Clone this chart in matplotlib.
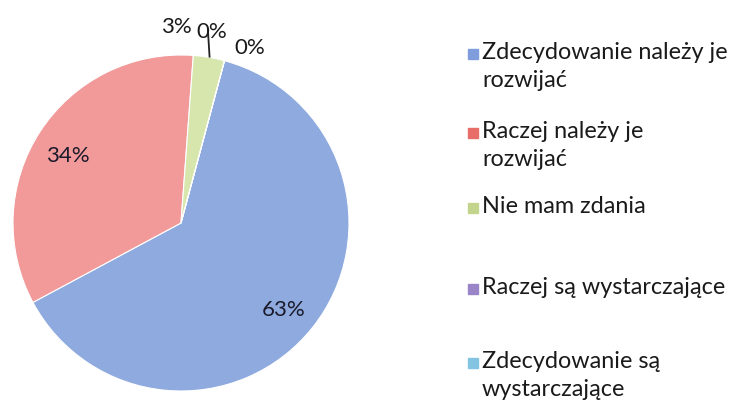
import numpy as np
import matplotlib
import matplotlib.pyplot as plt
from matplotlib.patches import Rectangle
matplotlib.use('Agg')

categories = ['Zdecydowanie należy je\nrozwijać', 'Raczej należy je\nrozwijać', 'Nie mam zdania',
              'Raczej są wystarczające', 'Zdecydowanie są\nwystarczające']
values = [63, 34, 3, 0, 0]
pie_colors = ['#8eaade', '#f29a9a', '#d6e6ad', '#a48fcf', '#8ccbe6']
legend_colors = ['#7f9cdc', '#e86c68', '#c3d58c', '#9a85c8', '#82c4e2']

plt.rcParams['font.family'] = ['Lato', 'DejaVu Sans']

fig = plt.figure(figsize=(7.3, 4.04), dpi=100)
W, H = 730, 404
cx, cy, r = 181, 223, 168
ax = fig.add_axes([(cx - r) / W, (H - cy - r) / H, 2 * r / W, 2 * r / H])

wedges, texts, autotexts = ax.pie(values, colors=pie_colors, startangle=75, counterclock=False,
                                  autopct='%1.0f%%', pctdistance=0.79,
                                  wedgeprops=dict(edgecolor='white', linewidth=0.8),
                                  textprops=dict(fontsize=16, color='#1a1a2a'))
ax.set_xlim(-1, 1)
ax.set_ylim(-1, 1)
ax.set_aspect('auto')
ax.axis('off')

# nudge the big labels a little down, like in the original
for t in autotexts[:2]:
    x, y = t.get_position()
    t.set_position((x - 0.01, y - 0.03))

# small slices: labels moved outside
outer = {2: (-0.03, 1.165), 3: (0.185, 1.135), 4: (0.41, 1.04)}
for i, pos in outer.items():
    autotexts[i].set_position(pos)
    autotexts[i].set_color('#1a1a1a')
    autotexts[i].set_clip_on(False)
ax.plot([0.16, 0.17], [1.15, 0.99], color='#222222', lw=1.3, clip_on=False)

# legend drawn by hand (uneven row spacing like the original)
baselines = [59, 138, 213, 294, 368]
line_gap = 28
for lab, col, yb in zip(categories, legend_colors, baselines):
    fig.patches.append(Rectangle((468 / W, 1 - yb / H), 10 / W, 10 / H,
                                 transform=fig.transFigure, color=col))
    for k, line in enumerate(lab.split('\n')):
        fig.text(482 / W, 1 - (yb + k * line_gap) / H, line, fontsize=16.8,
                 va='baseline', ha='left', color='#1a1a1a')

fig.savefig('out.png', dpi=100)
